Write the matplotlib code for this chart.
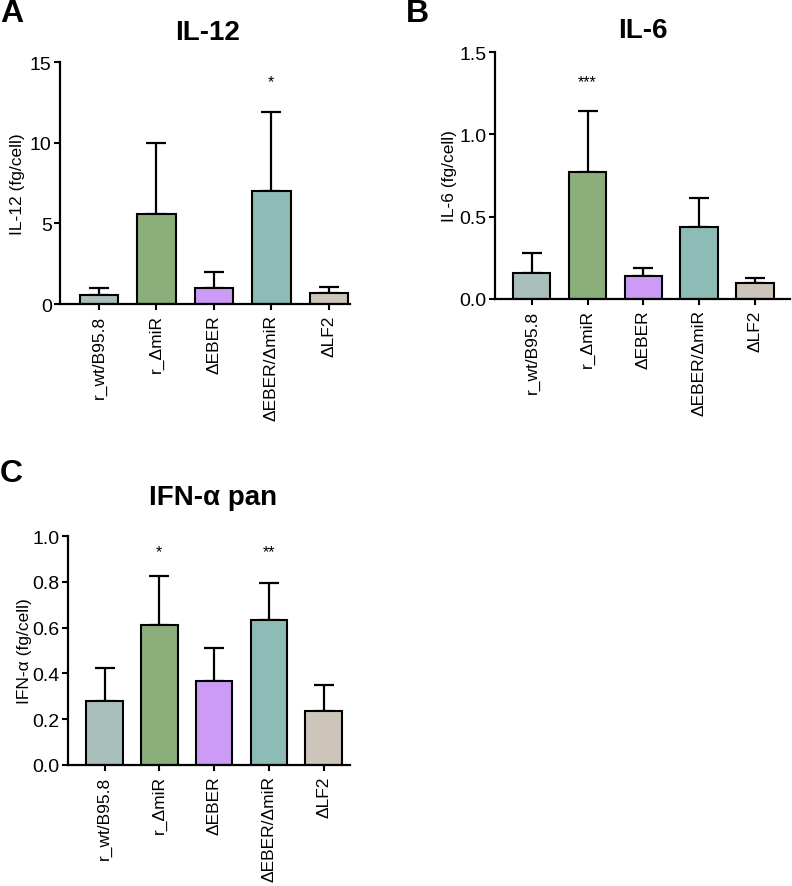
import matplotlib
matplotlib.use("Agg")
import matplotlib.pyplot as plt

plt.rcParams['font.family'] = ['Liberation Sans', 'DejaVu Sans']

groups = ["r_wt/B95.8", "r_ΔmiR", "ΔEBER", "ΔEBER/ΔmiR", "ΔLF2"]
colors = ["#a9bfbc", "#8aaf7b", "#cc9bf6", "#8dbcb6", "#cdc5b9"]

il12_mean = [0.56, 5.6, 1.0, 7.0, 0.66]
il12_err = [0.44, 4.35, 1.0, 4.9, 0.39]
il12_stars = ["", "", "", "*", ""]

il6_mean = [0.156, 0.77, 0.14, 0.437, 0.10]
il6_err = [0.121, 0.37, 0.05, 0.176, 0.026]
il6_stars = ["", "***", "", "", ""]

ifn_mean = [0.28, 0.613, 0.365, 0.632, 0.234]
ifn_err = [0.144, 0.214, 0.145, 0.163, 0.116]
ifn_stars = ["", "*", "", "**", ""]

W, H = 792, 887
fig = plt.figure(figsize=(W / 100, H / 100), dpi=100)


def px_axes(left, right, top, bottom):
    return fig.add_axes([left / W, 1 - bottom / H, (right - left) / W, (bottom - top) / H])


def panel(ax, means, errs, stars, ymax, yticks, ylabel, xlim, star_y, label_x):
    x = list(range(len(groups)))
    ax.bar(x, means, width=0.67, color=colors, edgecolor="black", linewidth=1.5, zorder=2)
    ax.errorbar(x, means, yerr=[[0] * len(errs), errs], fmt="none", ecolor="black",
                elinewidth=1.6, capsize=7, capthick=1.6, zorder=1)
    for xi, s in zip(x, stars):
        if s:
            ax.text(xi, star_y, s, ha="center", va="center", fontsize=11.5)
    ax.set_xlim(*xlim)
    ax.set_ylim(0, ymax)
    ax.set_yticks(yticks)
    ax.set_xticks(x)
    ax.set_xticklabels(groups, rotation=90, fontsize=12.5)
    ax.tick_params(axis="y", labelsize=14, width=1.5, length=4, pad=2)
    ax.tick_params(axis="x", width=1.5, length=4)
    ax.set_ylabel(ylabel, fontsize=12.5)
    ax.yaxis.set_label_coords(label_x, 0.5)
    for sp in ["top", "right"]:
        ax.spines[sp].set_visible(False)
    for sp in ["left", "bottom"]:
        ax.spines[sp].set_linewidth(1.6)


axA = px_axes(60, 350, 63, 305)
panel(axA, il12_mean, il12_err, il12_stars, 15, [0, 5, 10, 15], "IL-12 (fg/cell)",
      (-0.68, 4.37), 13.8, -0.12)
axA.set_yticklabels(["0", "5", "10", "15"])

axB = px_axes(495, 790, 53, 300)
panel(axB, il6_mean, il6_err, il6_stars, 1.5, [0.0, 0.5, 1.0, 1.5], "IL-6 (fg/cell)",
      (-0.66, 4.63), 1.32, -0.13)
axB.set_yticklabels(["0.0", "0.5", "1.0", "1.5"])

axC = px_axes(68, 350, 537, 766)
panel(axC, ifn_mean, ifn_err, ifn_stars, 1.0, [0.0, 0.2, 0.4, 0.6, 0.8, 1.0], "IFN-α (fg/cell)",
      (-0.667, 4.48), 0.93, -0.128)
axC.set_yticklabels(["0.0", "0.2", "0.4", "0.6", "0.8", "1.0"])

# panel titles
fig.text(208 / W, 1 - 40 / H, "IL-12", ha="center", va="baseline", fontsize=20, fontweight="bold")
fig.text(643 / W, 1 - 38 / H, "IL-6", ha="center", va="baseline", fontsize=20, fontweight="bold")
fig.text(213 / W, 1 - 505 / H, "IFN-α pan", ha="center", va="baseline", fontsize=20, fontweight="bold")

# panel letters
fig.text(0 / W, 1 - 22 / H, "A", ha="left", va="baseline", fontsize=23, fontweight="bold")
fig.text(406 / W, 1 - 22 / H, "B", ha="left", va="baseline", fontsize=23, fontweight="bold")
fig.text(0 / W, 1 - 482 / H, "C", ha="left", va="baseline", fontsize=23, fontweight="bold")

fig.savefig("out.png", dpi=100)
